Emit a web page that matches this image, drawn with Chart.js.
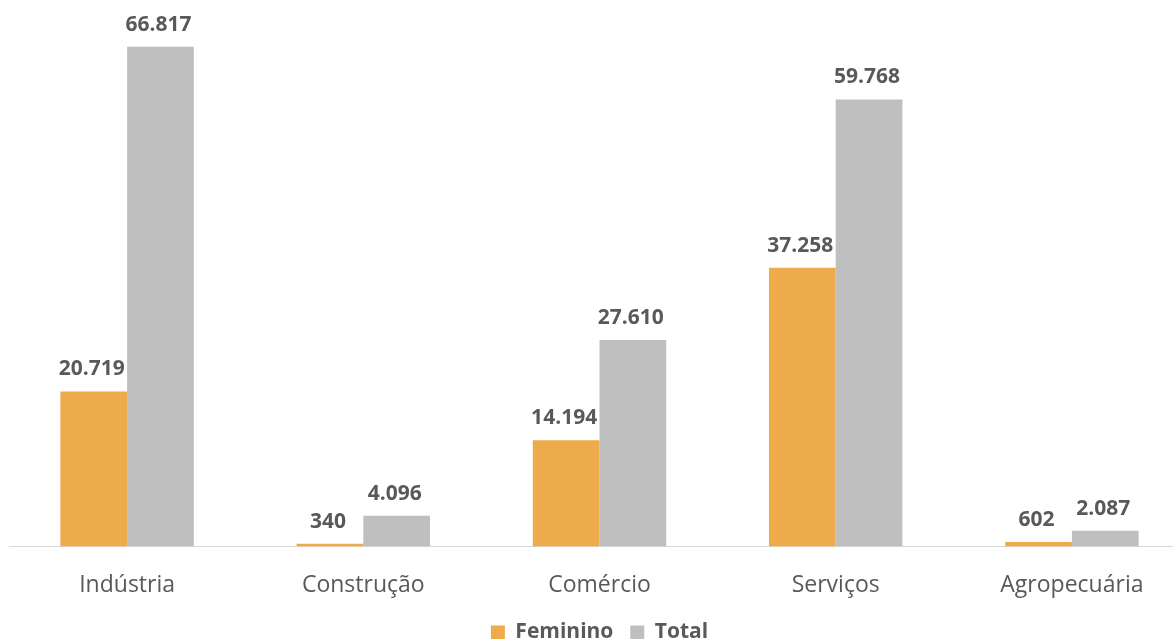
<!DOCTYPE html>
<html>
<head>
<meta charset="utf-8">
<script src="https://cdn.jsdelivr.net/npm/chart.js@4.4.0/dist/chart.umd.min.js"></script>
<style>
  html, body { margin: 0; padding: 0; background: #ffffff; overflow: hidden; }
  #wrap { width: 1190px; height: 653px; position: relative; }
</style>
</head>
<body>
<div id="wrap"><canvas id="chart"></canvas></div>
<script>
// datos
const categories = ['Indústria', 'Construção', 'Comércio', 'Serviços', 'Agropecuária'];
const feminino = [20719, 340, 14194, 37258, 602];
const total = [66817, 4096, 27610, 59768, 2087];

const fmt = v => v.toLocaleString('pt-BR');

// etiquetas encima de las barras
const valueLabels = {
  id: 'valueLabels',
  afterDatasetsDraw(chart) {
    const ctx = chart.ctx;
    ctx.save();
    ctx.font = 'bold 21px "Open Sans", sans-serif';
    ctx.fillStyle = '#595959';
    ctx.textAlign = 'center';
    ctx.textBaseline = 'middle';
    chart.data.datasets.forEach((ds, i) => {
      chart.getDatasetMeta(i).data.forEach((bar, j) => {
        ctx.fillText(fmt(ds.data[j]), bar.x - 2, bar.y - 22);
      });
    });
    ctx.restore();
  }
};

new Chart(document.getElementById('chart'), {
  type: 'bar',
  data: {
    labels: categories,
    datasets: [
      {
        label: 'Feminino',
        data: feminino,
        backgroundColor: '#EDAB4B',
        barPercentage: 1,
        categoryPercentage: 0.565
      },
      {
        label: 'Total',
        data: total,
        backgroundColor: '#BFBFBF',
        barPercentage: 1,
        categoryPercentage: 0.565
      }
    ]
  },
  options: {
    responsive: true,
    maintainAspectRatio: false,
    animation: false,
    layout: { padding: { left: 9, right: 0, top: 8, bottom: 0 } },
    plugins: {
      legend: {
        position: 'bottom',
        labels: {
          boxWidth: 14,
          boxHeight: 14,
          padding: 6,
          color: '#595959',
          font: { family: '"Open Sans", sans-serif', size: 21, weight: 'bold' },
          // separación extra entre los dos elementos
          generateLabels(chart) {
            const items = Chart.defaults.plugins.legend.labels.generateLabels(chart);
            items[0].text = items[0].text + '  ';
            return items;
          }
        }
      },
      tooltip: { enabled: false }
    },
    scales: {
      x: {
        grid: { display: false },
        border: { display: true, color: '#D9D9D9', width: 1 },
        ticks: {
          color: '#595959',
          padding: 17,
          font: { family: '"Open Sans", sans-serif', size: 23 }
        }
      },
      y: {
        display: false,
        beginAtZero: true,
        max: 72000
      }
    }
  },
  plugins: [valueLabels]
});
</script>
</body>
</html>
